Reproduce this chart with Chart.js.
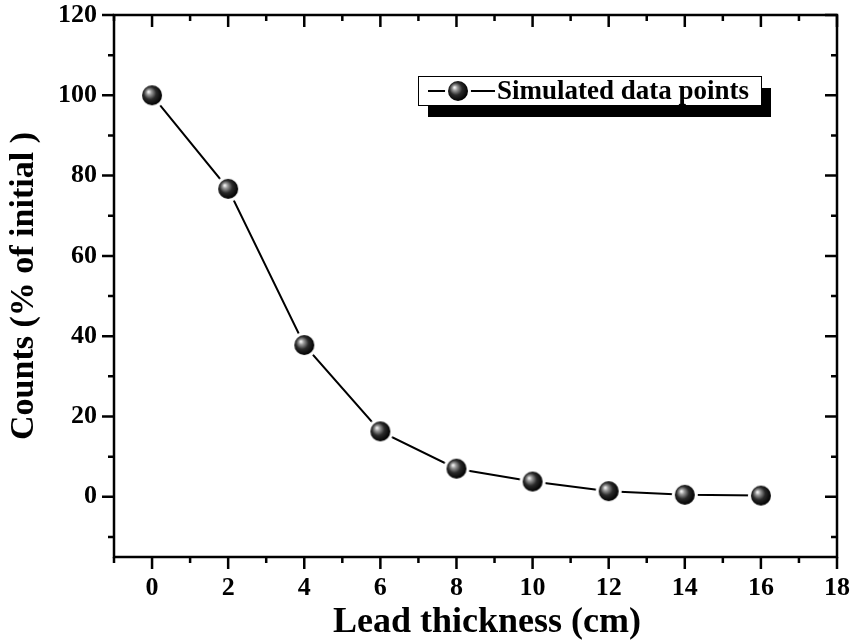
<!DOCTYPE html>
<html>
<head>
<meta charset="utf-8">
<script src="https://cdn.jsdelivr.net/npm/chart.js@4.4.1/dist/chart.umd.min.js"></script>
<style>
  body { margin: 0; background: #fff; }
</style>
</head>
<body>
<canvas id="chart" width="852" height="644"></canvas>
<script>
// data
const thickness = [0, 2, 4, 6, 8, 10, 12, 14, 16];
const counts = [100, 76.7, 37.8, 16.3, 7, 3.8, 1.4, 0.5, 0.3];
const xLabels = [0, 2, 4, 6, 8, 10, 12, 14, 16, 18];
const yLabels = [0, 20, 40, 60, 80, 100, 120];
const xMinor = [-1, 0, 1, 2, 3, 4, 5, 6, 7, 8, 9, 10, 11, 12, 13, 14, 15, 16, 17, 18];
const yMinor = [-10, 0, 10, 20, 30, 40, 50, 60, 70, 80, 90, 100, 110, 120];
const xTitle = 'Lead thickness (cm)';
const yTitle = 'Counts (% of initial )';

const serif = "'Liberation Serif', 'Times New Roman', serif";

// shaded ball marker with white ring so the line stops short of it
function makeBall() {
  const c = document.createElement('canvas');
  c.width = 28; c.height = 28;
  const g = c.getContext('2d');
  g.fillStyle = '#fff';
  g.beginPath(); g.arc(14, 14, 13, 0, Math.PI * 2); g.fill();
  const grad = g.createRadialGradient(10.5, 10.5, 0.5, 13, 13, 11);
  grad.addColorStop(0, '#f2f2f2');
  grad.addColorStop(0.2, '#9a9a9a');
  grad.addColorStop(0.55, '#2a2a2a');
  grad.addColorStop(1, '#000');
  g.fillStyle = grad;
  g.beginPath(); g.arc(14, 14, 10, 0, Math.PI * 2); g.fill();
  return c;
}
const ball = makeBall();

const frame = {
  id: 'frame',
  afterDraw(chart) {
    const ctx = chart.ctx;
    const a = chart.chartArea;
    const xs = chart.scales.x, ys = chart.scales.y;
    ctx.save();
    ctx.strokeStyle = '#000';
    ctx.lineWidth = 2.5;
    ctx.strokeRect(a.left, a.top, a.right - a.left, a.bottom - a.top);
    ctx.beginPath();
    xMinor.forEach(v => {
      const px = xs.getPixelForValue(v);
      const len = (v >= 0 && v % 2 === 0) ? 12 : 6;
      ctx.moveTo(px, a.bottom); ctx.lineTo(px, a.bottom + len);
      ctx.moveTo(px, a.top); ctx.lineTo(px, a.top + len);
    });
    yMinor.forEach(v => {
      const py = ys.getPixelForValue(v);
      const len = (v % 20 === 0) ? 12 : 6;
      ctx.moveTo(a.left, py); ctx.lineTo(a.left - len, py);
      ctx.moveTo(a.right, py); ctx.lineTo(a.right - len, py);
    });
    ctx.stroke();

    // x axis title (sits a little right of centre in the original)
    ctx.fillStyle = '#000';
    ctx.font = 'bold 36px ' + serif;
    ctx.textAlign = 'center';
    ctx.textBaseline = 'alphabetic';
    ctx.fillText(xTitle, 487, 632);

    // legend box with drop shadow
    const bx = 418, by = 76, bw = 343, bh = 29;
    ctx.fillRect(bx + 10, by + 12, bw, bh);
    ctx.fillStyle = '#fff';
    ctx.fillRect(bx, by, bw, bh);
    ctx.lineWidth = 1;
    ctx.strokeRect(bx + 0.5, by + 0.5, bw, bh);
    ctx.lineWidth = 2;
    ctx.beginPath();
    ctx.moveTo(bx + 10, by + 15); ctx.lineTo(bx + 77, by + 15);
    ctx.stroke();
    ctx.drawImage(ball, bx + 40 - 14, by + 15 - 14);
    ctx.fillStyle = '#000';
    ctx.font = 'bold 27px ' + serif;
    ctx.textAlign = 'left';
    ctx.textBaseline = 'middle';
    ctx.fillText(chart.data.datasets[0].label, bx + 79, by + 16);
    ctx.restore();
  }
};

const ctx = document.getElementById('chart').getContext('2d');
new Chart(ctx, {
  type: 'line',
  data: {
    datasets: [{
      label: 'Simulated data points',
      data: thickness.map((x, i) => ({ x: x, y: counts[i] })),
      borderColor: '#000',
      borderWidth: 2,
      pointStyle: ball,
      pointRadius: 13,
      tension: 0
    }]
  },
  options: {
    responsive: false,
    animation: false,
    layout: { padding: { top: 15, right: 14, left: 0, bottom: 0 } },
    plugins: { legend: { display: false }, tooltip: { enabled: false } },
    scales: {
      x: {
        type: 'linear',
        min: -1, max: 18,
        afterBuildTicks: s => { s.ticks = xLabels.map(v => ({ value: v })); },
        afterFit: s => { s.height = 87; s.paddingLeft = 0; s.paddingRight = 0; },
        grid: { display: false, drawTicks: false },
        border: { display: false },
        ticks: { color: '#000', padding: 16, maxRotation: 0, font: { family: serif, size: 26, weight: 'bold' } },
        title: { display: false }
      },
      y: {
        min: -15, max: 120,
        afterBuildTicks: s => { s.ticks = yLabels.map(v => ({ value: v })); },
        afterFit: s => { s.width = 114; s.paddingTop = 0; s.paddingBottom = 0; },
        grid: { display: false, drawTicks: false },
        border: { display: false },
        ticks: { color: '#000', padding: 17, font: { family: serif, size: 26, weight: 'bold' } },
        title: { display: true, text: yTitle, color: '#000', font: { family: serif, size: 34, weight: 'bold' } }
      }
    }
  },
  plugins: [frame]
});
</script>
</body>
</html>
